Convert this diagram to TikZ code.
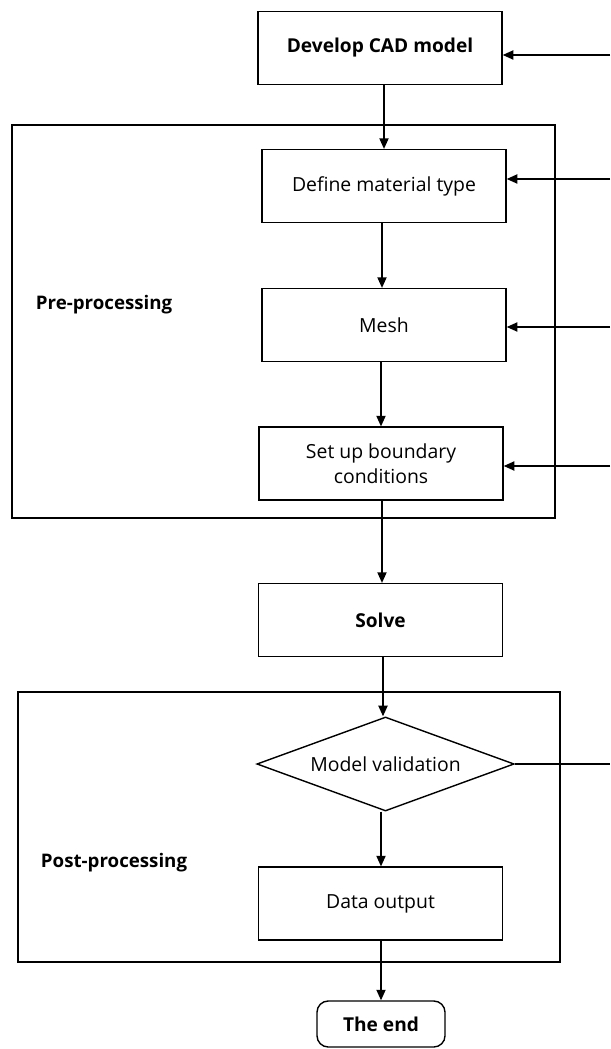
\documentclass[tikz,border=0pt]{standalone}
\usepackage{fontspec}
\setmainfont{Open Sans}
\usetikzlibrary{arrows.meta, positioning, shapes.geometric}

\tikzset{
  stepbox/.style={draw, line width=1pt, minimum width=6.1cm, minimum height=1.82cm, inner sep=2pt, font=\fontsize{13.8}{17.5}\selectfont},
  boldbox/.style={stepbox, font=\fontsize{13.6}{17}\selectfont\bfseries},
  stagebox/.style={draw, line width=1pt},
  arrow/.style={-{Triangle[length=7.5pt,width=6.5pt]}, line width=1pt},
  feedline/.style={line width=1pt},
}

\begin{document}
\begin{tikzpicture}[x=0.025cm, y=-0.025cm] % 1 unit = 1 px
  \useasboundingbox (0,0) rectangle (610,1049);

  % stage frames
  \draw[stagebox] (12,125) rectangle (555,518);
  \draw[stagebox] (18,692) rectangle (560,962);
  \node[font=\fontsize{13.3}{16}\selectfont\bfseries, anchor=west] (pre) at (31,305) {Pre-processing};
  \node[font=\fontsize{13.3}{16}\selectfont\bfseries, anchor=west] (post) at (36,863) {Post-processing};

  % steps
  \node[boldbox] (cad) at (380,48) {Develop CAD model};
  \node[stepbox] (mat) at (384,186) {Define material type};
  \node[stepbox] (mesh) at (384,325) {Mesh};
  \node[stepbox, align=center] (bc) at (381,463.5) {Set up boundary\\conditions};
  \node[boldbox] (solve) at (380.5,620) {Solve};
  \node[draw, diamond, line width=1pt, aspect=2.73, minimum width=6.43cm, minimum height=2.35cm, inner sep=0pt, font=\fontsize{13.8}{17}\selectfont] (valid) at (385.5,764) {Model validation};
  \node[stepbox] (out) at (380.5,903.5) {Data output};
  \node[draw, rounded corners=8pt, line width=1pt, minimum width=3.2cm, minimum height=1.15cm, font=\fontsize{13.6}{17}\selectfont\bfseries] (end) at (381,1024) {The end};

  % main flow
  \draw[arrow] (cad.south -| 384,0) -- (mat.north -| 384,0);
  \draw[arrow] (mat.south -| 382,0) -- (mesh.north -| 382,0);
  \draw[arrow] (mesh.south -| 381,0) -- (bc.north -| 381,0);
  \draw[arrow] (bc.south -| 382,0) -- (solve.north -| 382,0);
  \draw[arrow] (solve.south -| 383,0) -- (valid.north -| 383,0);
  \draw[arrow] (valid.south -| 381,0) -- (out.north -| 381,0);
  \draw[arrow] (out.south -| 381,0) -- (end.north -| 381,0);

  % feedback from validation
  \coordinate (fb0) at (610,764);
  \coordinate (fb1) at (610,55);
  \coordinate (fb2) at (610,179);
  \coordinate (fb3) at (610,327);
  \coordinate (fb4) at (610,466);
  \draw[feedline] (valid.east) -- (fb0);
  \draw[arrow] (fb1) -- (fb1 -| cad.east);
  \draw[arrow] (fb2) -- (fb2 -| mat.east);
  \draw[arrow] (fb3) -- (fb3 -| mesh.east);
  \draw[arrow] (fb4) -- (fb4 -| bc.east);
\end{tikzpicture}
\end{document}
